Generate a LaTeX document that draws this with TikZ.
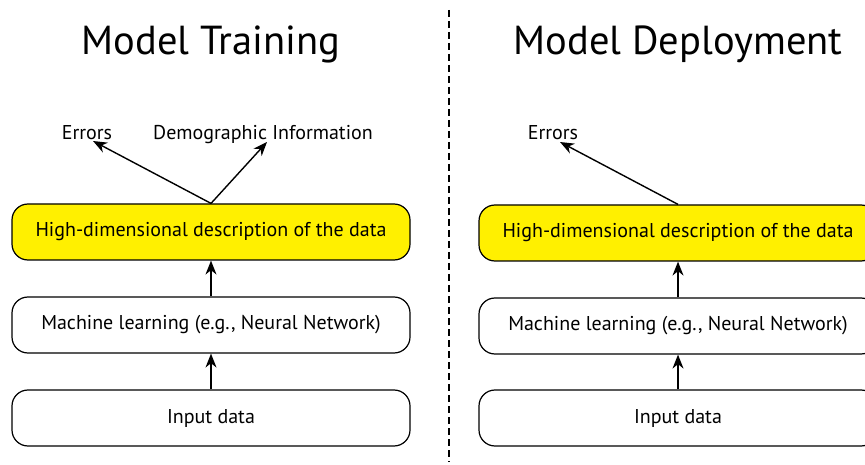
\documentclass[tikz,border=0pt]{standalone}
\usepackage{fontspec}
\setmainfont{PT Sans}
\usetikzlibrary{positioning}
\usetikzlibrary{arrows.meta}
\definecolor{hiyellow}{RGB}{255,240,0}

\begin{document}
\begin{tikzpicture}[x=1pt,y=-1pt,
  box/.style={draw,line width=1.2pt,rounded corners=16pt,minimum width=398pt,minimum height=56pt,inner sep=0pt,font=\fontsize{20}{22}\selectfont},
  lab/.style={font=\fontsize{20}{22}\selectfont,inner sep=0pt,anchor=base},
  ttl/.style={font=\fontsize{40.5}{44}\selectfont,inner sep=0pt,anchor=base},
  up/.style={-{Stealth[length=14pt,width=11pt,inset=4.5pt]},line width=1.4pt}]
\useasboundingbox (0,0) rectangle (865,465);
\clip (0,0) rectangle (865,465);
% training side
\path (211,55) node[ttl] (T) {Model Training}
(211,232) node[box,fill=hiyellow] (H) {High-dimensional description of the data}
(211,325) node[box] (M) {Machine learning (e.g., Neural Network)}
(211,418) node[box] (I) {Input data}
(87,140) node[lab] (E) {Errors}
(263,140) node[lab] (D) {Demographic Information};
\coordinate (Etip) at (93,141);
\coordinate (Dtip) at (267,142);
\draw[up] (I) -- (M);
\draw[up] (M) -- (H);
\draw[up] (H.north) -- (Etip);
\draw[up] (H.north) -- (Dtip);
% deployment side
\path (678,55) node[ttl] (T1) {Model Deployment}
(678,233) node[box,fill=hiyellow] (H1) {High-dimensional description of the data}
(678,326) node[box] (M1) {Machine learning (e.g., Neural Network)}
(678,418) node[box] (I1) {Input data}
(553,140) node[lab] (E1) {Errors};
\coordinate (E1tip) at (560,142);
\draw[up] (I1) -- (M1);
\draw[up] (M1) -- (H1);
\draw[up] (H1.north) -- (E1tip);
% divider
\coordinate (top) at (449,10);
\coordinate (bot) at (449,462);
\draw[line width=1.5pt,dash pattern=on 7pt off 4pt] (top) -- (bot);
\end{tikzpicture}
\end{document}
